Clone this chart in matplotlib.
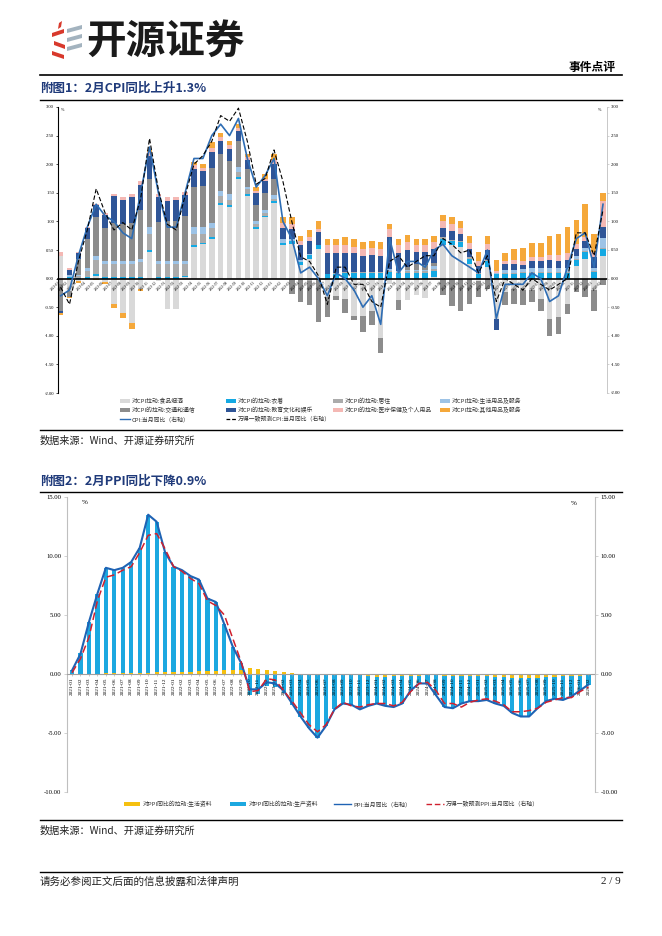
import numpy as np
import matplotlib
matplotlib.use('Agg')
import matplotlib.pyplot as plt
from matplotlib.lines import Line2D
from matplotlib.patches import Rectangle, Polygon

plt.rcParams['font.family'] = ['Noto Sans CJK SC', 'DejaVu Sans']

# ---------------- data ----------------
months = [f"{y}-{m:02d}" for y in range(2021, 2027) for m in range(1, 13)][:62]

food = [0.40,-0.22,-0.05,0.00,0.05,-0.06,-0.45,-0.60,-0.78,-0.18,0.47,-0.05,
        -0.53,-0.54,0.02,0.55,0.60,0.70,1.29,1.25,1.74,1.45,0.87,1.07,
        1.33,0.58,0.60,0.23,0.35,0.52,-0.32,-0.30,-0.35,-0.65,-0.65,-0.56,
        -1.03,-0.10,-0.38,-0.38,-0.29,-0.34,0.02,0.58,0.58,0.55,0.26,-0.05,
        0.20,-0.70,-0.24,-0.18,-0.20,-0.20,-0.35,-0.70,-0.68,-0.44,0.22,0.35,
        -0.20,0.40]
cloth = [-0.01,0.02,0.01,0.02,0.03,0.03,0.03,0.03,0.03,0.03,0.03,0.03,
         0.03,0.03,0.03,0.03,0.03,0.03,0.03,0.03,0.03,0.03,0.03,0.03,
         0.03,0.05,0.05,0.06,0.06,0.06,0.08,0.08,0.10,0.10,0.10,0.10,
         0.10,0.12,0.10,0.10,0.10,0.10,0.12,0.12,0.08,0.09,0.09,0.08,
         0.10,0.08,0.08,0.08,0.09,0.10,0.10,0.10,0.10,0.10,0.10,0.12,
         0.12,0.12]
resid = [-0.08,0.00,0.03,0.12,0.25,0.22,0.22,0.22,0.23,0.26,0.28,0.22,
         0.22,0.22,0.20,0.20,0.15,0.15,0.12,0.10,0.10,0.08,0.06,0.05,
         0.04,0.00,-0.02,-0.03,-0.04,-0.03,-0.01,0.02,0.02,0.02,0.02,0.02,
         0.02,0.02,0.02,0.03,0.03,0.03,0.03,0.02,0.02,0.02,0.02,0.02,
         0.02,0.00,0.02,0.02,0.02,0.02,0.02,0.02,0.02,0.02,0.02,0.02,
         0.02,0.02]
daily = [0.00,0.04,0.03,0.04,0.06,0.05,0.05,0.05,0.05,0.06,0.12,0.06,
         0.06,0.06,0.06,0.12,0.12,0.10,0.10,0.10,0.08,0.05,0.05,0.05,
         0.06,0.06,0.05,0.03,0.02,0.00,0.00,0.00,0.00,0.00,0.00,0.00,
         0.00,0.03,0.02,0.02,0.02,0.02,0.05,0.00,0.00,0.00,0.00,0.00,
         0.00,0.02,0.05,0.05,0.05,0.06,0.06,0.07,0.07,0.07,0.05,0.05,
         0.05,0.17]
trans = [-0.48,-0.10,0.28,0.52,0.68,0.58,0.68,0.66,0.66,0.85,0.84,0.68,
         0.70,0.69,0.78,0.70,0.72,0.95,0.63,0.58,0.46,0.30,0.28,0.30,
         0.28,0.00,-0.25,-0.38,-0.43,-0.72,-0.35,-0.08,-0.25,-0.08,-0.28,-0.25,
         -0.27,0.00,-0.17,0.05,0.10,0.08,0.05,-0.29,-0.48,-0.56,-0.44,-0.28,
         -0.18,0.00,-0.22,-0.26,-0.27,-0.21,-0.21,-0.30,-0.29,-0.18,-0.24,-0.32,
         -0.36,-0.12]
edu = [-0.03,0.09,0.10,0.18,0.21,0.23,0.46,0.41,0.46,0.43,0.40,0.43,
       0.35,0.38,0.38,0.32,0.26,0.29,0.23,0.20,0.17,0.17,0.20,0.20,
       0.26,0.20,0.17,0.26,0.23,0.23,0.36,0.34,0.32,0.32,0.28,0.29,
       0.28,0.55,0.30,0.30,0.22,0.24,0.25,0.17,0.15,0.12,0.14,0.12,
       0.18,-0.20,0.10,0.10,0.08,0.12,0.12,0.13,0.12,0.13,0.12,0.12,
       0.18,0.20]
med = [0.06,0.04,0.02,0.02,0.03,0.03,0.04,0.05,0.05,0.08,0.08,0.06,
       0.06,0.05,0.05,0.06,0.06,0.07,0.07,0.08,0.06,0.04,0.04,0.05,
       0.08,0.08,0.08,0.08,0.07,0.06,0.14,0.14,0.14,0.12,0.12,0.12,
       0.12,0.14,0.14,0.14,0.12,0.12,0.12,0.12,0.12,0.11,0.12,0.09,
       0.10,0.04,0.05,0.07,0.07,0.08,0.08,0.10,0.10,0.12,0.10,0.06,
       0.10,0.45]
other = [-0.03,-0.02,-0.02,-0.01,-0.02,-0.04,-0.07,-0.09,-0.10,-0.04,0.02,0.00,
         0.00,0.00,0.00,0.05,0.06,0.09,0.08,0.06,0.06,0.05,0.07,0.08,
         0.09,0.10,0.12,0.09,0.12,0.13,0.12,0.12,0.14,0.14,0.12,0.12,
         0.12,0.10,0.12,0.13,0.11,0.11,0.10,0.10,0.12,0.12,0.12,0.16,
         0.14,0.18,0.15,0.20,0.22,0.25,0.25,0.32,0.37,0.46,0.42,0.58,
         0.31,0.13]
cpi = [-0.3,-0.2,0.4,0.9,1.3,1.1,1.0,0.8,0.7,1.5,2.3,1.5,
       0.9,0.9,1.5,2.1,2.1,2.5,2.7,2.5,2.8,2.1,1.6,1.8,
       2.1,1.0,0.7,0.1,0.2,0.0,-0.3,0.1,0.0,-0.2,-0.5,-0.3,
       -0.8,0.7,0.1,0.3,0.3,0.2,0.5,0.6,0.4,0.3,0.2,0.1,
       0.5,-0.7,-0.1,-0.1,-0.1,0.1,0.0,-0.4,-0.3,0.2,0.7,0.8,
       0.2,1.3]
cpi_fc = [-0.15,-0.45,0.3,0.85,1.57,1.15,0.85,0.98,0.85,1.4,2.45,1.55,
          0.95,0.85,1.45,2.0,2.15,2.4,2.85,2.75,2.98,2.4,1.65,1.75,
          2.25,1.7,1.0,0.38,0.3,0.05,-0.45,0.2,0.2,-0.1,-0.1,-0.4,
          -0.5,0.3,0.4,0.2,0.3,0.4,0.4,0.7,0.6,0.45,0.5,0.1,
          0.4,-0.4,0.0,-0.1,-0.2,0.0,-0.1,-0.2,-0.1,0.0,0.8,0.8,
          0.4,1.2]

ppi = [0.3,1.7,4.4,6.8,9.0,8.8,9.0,9.5,10.7,13.5,12.9,10.3,
       9.1,8.8,8.3,8.0,6.4,6.1,4.2,2.3,0.9,-1.3,-1.3,-0.7,
       -0.8,-1.4,-2.5,-3.6,-4.6,-5.4,-4.4,-3.0,-2.5,-2.6,-3.0,-2.7,
       -2.5,-2.7,-2.8,-2.5,-1.4,-0.8,-0.8,-1.8,-2.8,-2.9,-2.5,-2.3,
       -2.3,-2.2,-2.5,-2.7,-3.3,-3.6,-3.6,-2.9,-2.3,-2.1,-2.2,-1.9,
       -1.4,-0.9]
ppi_fc = [0.1,1.3,3.1,6.2,8.2,8.4,8.8,9.1,10.3,11.75,11.9,10.6,
          9.1,8.7,8.1,7.65,6.2,5.8,5.0,3.0,1.0,-1.5,-1.4,-0.4,
          -0.5,-1.4,-2.3,-3.3,-4.3,-4.9,-4.3,-3.0,-2.4,-2.7,-2.8,-2.6,
          -2.5,-2.5,-2.7,-2.4,-1.5,-0.8,-0.7,-1.4,-2.5,-2.5,-2.8,-2.4,
          -2.2,-2.1,-2.3,-2.6,-3.2,-3.2,-3.1,-2.9,-2.4,-2.2,-2.0,-2.0,
          -1.5,-1.1]
ppi_consumer = [-0.05,-0.05,-0.03,0.00,0.05,0.05,0.07,0.07,0.08,0.12,0.18,0.18,
                0.18,0.20,0.20,0.22,0.25,0.28,0.36,0.38,0.38,0.47,0.40,0.35,
                0.28,0.17,0.10,0.04,0.00,-0.08,-0.08,-0.05,-0.10,-0.10,-0.10,-0.13,
                -0.22,-0.22,-0.18,-0.20,-0.20,-0.20,-0.10,-0.12,-0.15,-0.15,-0.15,-0.15,
                -0.20,-0.20,-0.22,-0.25,-0.30,-0.30,-0.30,-0.30,-0.28,-0.25,-0.20,-0.20,
                -0.15,-0.10]
ppi_producer = [0.35,1.75,4.43,6.80,8.95,8.75,8.93,9.43,10.62,13.38,12.72,10.12,
                8.92,8.60,8.10,7.78,6.15,5.82,3.84,1.92,0.52,-1.77,-1.70,-1.05,
                -1.08,-1.57,-2.60,-3.64,-4.60,-5.32,-4.32,-2.95,-2.40,-2.50,-2.90,-2.57,
                -2.28,-2.48,-2.62,-2.30,-1.20,-0.60,-0.70,-1.68,-2.65,-2.75,-2.35,-2.15,
                -2.10,-2.00,-2.28,-2.45,-3.00,-3.30,-3.30,-2.60,-2.02,-1.85,-2.00,-1.70,
                -1.25,-0.80]

cpi_names = ['对CPI拉动:食品烟酒', '对CPI的拉动:衣着', '对CPI的拉动:居住', '对CPI拉动:生活用品及服务',
             '对CPI的拉动:交通和通信', '对CPI的拉动:教育文化和娱乐', '对CPI的拉动:医疗保健及个人用品', '对CPI拉动:其他用品及服务']
cpi_colors = ['#D9D9D9', '#14A9E3', '#ABABAB', '#9DC3E6', '#8C8C8C', '#2F5597', '#F4B8B4', '#F5A83A']
cpi_series = [food, cloth, resid, daily, trans, edu, med, other]

# ---------------- figure ----------------
W, H = 662, 936
fig = plt.figure(figsize=(W / 100, H / 100), dpi=100)
def fx(x): return x / W
def fy(y): return 1 - y / H

def hline(y, x0=40, x1=622, lw=1.0, color='black'):
    fig.add_artist(Line2D([fx(x0), fx(x1)], [fy(y), fy(y)], transform=fig.transFigure,
                          color=color, lw=lw))

SERIF = ['Liberation Serif', 'DejaVu Serif']

# logo
lax = fig.add_axes([fx(50), fy(60), 34 / W, 40 / H])
lax.set_xlim(0, 34); lax.set_ylim(0, 40); lax.axis('off')
red = '#D8392C'; gry = '#A3B3BF'
for poly in [[(9, 37), (12, 39), (11, 33), (8, 31)],
             [(2, 27), (14, 31), (14, 27), (2, 23)],
             [(4, 19), (15, 15), (15, 11), (4, 15)],
             [(2, 9), (14, 5), (14, 1), (2, 5)]]:
    lax.add_patch(Polygon(poly, closed=True, color=red, lw=0))
for poly in [[(17, 31), (32, 35), (32, 31), (17, 27)],
             [(17, 22), (32, 26), (32, 22), (17, 18)],
             [(17, 13), (32, 17), (32, 13), (17, 9)]]:
    lax.add_patch(Polygon(poly, closed=True, color=gry, lw=0))
fig.text(fx(86), fy(41), '开源证券', fontsize=28.5, fontweight='bold', va='center', ha='left',
         color='#1a1a1a')
fig.text(fx(616), fy(67), '事件点评', fontsize=8.5, fontweight='bold', ha='right', va='center')
hline(75, lw=1.2)
fig.text(fx(40), fy(88), '附图1：2月CPI同比上升1.3%', fontsize=9, fontweight='bold',
         color='#1F3A7A', va='center', ha='left')
hline(100)

# ---------------- chart 1 ----------------
x = np.arange(len(months))
ax1 = fig.add_axes([fx(57.5), fy(393), (607 - 57.5) / W, (393 - 107) / H])
pos_b = np.zeros(len(x)); neg_b = np.zeros(len(x))
for vals, col in zip(cpi_series, cpi_colors):
    v = np.array(vals)
    p = np.where(v > 0, v, 0); n = np.where(v < 0, v, 0)
    ax1.bar(x, p, bottom=pos_b, width=0.62, color=col, lw=0, zorder=1)
    ax1.bar(x, n, bottom=neg_b, width=0.62, color=col, lw=0, zorder=1)
    pos_b += p; neg_b += n
ax1.plot(x, cpi, color='#2E6DB4', lw=1.2, zorder=4)
ax1.plot(x, cpi_fc, color='black', lw=0.8, ls=(0, (4, 2)), zorder=5)
ax1.set_xlim(-0.35, 61.45); ax1.set_ylim(-2, 3)
ax1.set_yticks(np.arange(-2, 3.01, 0.5))
ax1.set_yticklabels([f"{t:.2f}" for t in np.arange(-2, 3.01, 0.5)], fontsize=3.3, family=SERIF)
ax1.spines['top'].set_visible(False); ax1.spines['right'].set_visible(False)
ax1.spines['left'].set_color('black'); ax1.spines['left'].set_lw(0.8)
ax1.spines['bottom'].set_position(('data', 0)); ax1.spines['bottom'].set_lw(1.2)
ax1.set_xticks(x)
ax1.set_xticklabels(months, rotation=45, ha='right', fontsize=2.6, family=SERIF)
ax1.tick_params(axis='x', length=0, pad=1)
ax1.tick_params(axis='y', length=1.5, width=0.5, pad=1)
ax1.patch.set_alpha(0)
ax1r = ax1.twinx()
ax1r.set_ylim(-2, 3)
ax1r.set_yticks(np.arange(-2, 3.01, 0.5))
ax1r.set_yticklabels([f"{t:.2f}" for t in np.arange(-2, 3.01, 0.5)], fontsize=3.3, family=SERIF)
for s in ['top', 'left', 'bottom']:
    ax1r.spines[s].set_visible(False)
ax1r.spines['right'].set_color('#BFBFBF'); ax1r.spines['right'].set_lw(0.6)
ax1r.tick_params(axis='y', length=1.5, width=0.5, pad=1, color='#BFBFBF')
ax1.text(0.006, 0.995, '%', transform=ax1.transAxes, fontsize=3, family=SERIF, va='top')
ax1.text(0.99, 0.995, '%', transform=ax1.transAxes, fontsize=3, family=SERIF, va='top', ha='right')

# legend chart 1
cols = [120, 226, 333, 440]
rows = [401, 410, 419]
for k, (name, col) in enumerate(zip(cpi_names, cpi_colors)):
    r, c = divmod(k, 4)
    fig.add_artist(Rectangle((fx(cols[c]), fy(rows[r] + 1.6)), 10 / W, 3.2 / H,
                             transform=fig.transFigure, color=col, lw=0))
    fig.text(fx(cols[c] + 11.5), fy(rows[r]), name, fontsize=4.2, va='center', ha='left', color='#333333')
fig.add_artist(Line2D([fx(cols[0]), fx(cols[0] + 10)], [fy(rows[2])] * 2, transform=fig.transFigure,
                      color='#2E6DB4', lw=1.0))
fig.text(fx(cols[0] + 11.5), fy(rows[2]), 'CPI:当月同比（右轴）', fontsize=4.2, va='center', color='#333333')
fig.add_artist(Line2D([fx(cols[1]), fx(cols[1] + 10)], [fy(rows[2])] * 2, transform=fig.transFigure,
                      color='black', lw=0.9, ls=(0, (3, 1.5))))
fig.text(fx(cols[1] + 11.5), fy(rows[2]), '万得一致预测CPI:当月同比（右轴）', fontsize=4.2, va='center', color='#333333')

hline(430)
fig.text(fx(40), fy(441), '数据来源：Wind、开源证券研究所', fontsize=7.3, va='center', ha='left', color='#222222')

fig.text(fx(40), fy(481), '附图2：2月PPI同比下降0.9%', fontsize=9, fontweight='bold',
         color='#1F3A7A', va='center', ha='left')
hline(492)

# ---------------- chart 2 ----------------
ax2 = fig.add_axes([fx(67), fy(792), (595 - 67) / W, (792 - 497) / H])
pos_b = np.zeros(len(x)); neg_b = np.zeros(len(x))
for vals, col in zip([ppi_consumer, ppi_producer], ['#F5C010', '#1CA8E0']):
    v = np.array(vals)
    p = np.where(v > 0, v, 0); n = np.where(v < 0, v, 0)
    ax2.bar(x, p, bottom=pos_b, width=0.5, color=col, lw=0, zorder=1)
    ax2.bar(x, n, bottom=neg_b, width=0.5, color=col, lw=0, zorder=1)
    pos_b += p; neg_b += n
ax2.plot(x, ppi, color='#1F63B4', lw=1.5, zorder=4)
ax2.plot(x, ppi_fc, color='#D0202E', lw=1.1, ls=(0, (5, 2.5)), zorder=5)
ax2.set_xlim(-0.59, 61.78); ax2.set_ylim(-10, 15)
ticks2 = np.arange(-10, 15.01, 5)
ax2.set_yticks(ticks2)
ax2.set_yticklabels([f"{t:.2f}" for t in ticks2], fontsize=4.8, family=SERIF)
ax2.spines['top'].set_visible(False); ax2.spines['right'].set_visible(False)
ax2.spines['left'].set_color('#BFBFBF'); ax2.spines['left'].set_lw(0.8)
ax2.spines['bottom'].set_position(('data', 0)); ax2.spines['bottom'].set_color('#A0A0A0')
ax2.spines['bottom'].set_lw(0.8)
ax2.set_xticks(x)
ax2.set_xticklabels(months, rotation=90, fontsize=3.8, family=SERIF)
ax2.tick_params(axis='x', length=1.5, width=0.4, color='#A0A0A0', pad=1)
ax2.tick_params(axis='y', length=2, width=0.5, color='#BFBFBF', pad=2)
ax2.patch.set_alpha(0)
ax2r = ax2.twinx()
ax2r.set_ylim(-10, 15)
ax2r.set_yticks(ticks2)
ax2r.set_yticklabels([f"{t:.2f}" for t in ticks2], fontsize=4.8, family=SERIF)
for s in ['top', 'left', 'bottom']:
    ax2r.spines[s].set_visible(False)
ax2r.spines['right'].set_color('#BFBFBF'); ax2r.spines['right'].set_lw(0.8)
ax2r.tick_params(axis='y', length=2, width=0.5, color='#BFBFBF', pad=2)
ax2.text(0.028, 0.99, '%', transform=ax2.transAxes, fontsize=5, family=SERIF, va='top')
ax2.text(0.965, 0.985, '%', transform=ax2.transAxes, fontsize=5, family=SERIF, va='top', ha='right')

# legend chart 2
ly = 804
fig.add_artist(Rectangle((fx(124), fy(ly + 1.6)), 16 / W, 3.2 / H, transform=fig.transFigure,
                         color='#F5C010', lw=0))
fig.text(fx(143), fy(ly), '对PPI同比的拉动:生活资料', fontsize=4.2, va='center', color='#333333')
fig.add_artist(Rectangle((fx(230), fy(ly + 1.6)), 16 / W, 3.2 / H, transform=fig.transFigure,
                         color='#1CA8E0', lw=0))
fig.text(fx(249), fy(ly), '对PPI同比的拉动:生产资料', fontsize=4.2, va='center', color='#333333')
fig.add_artist(Line2D([fx(334), fx(351)], [fy(ly)] * 2, transform=fig.transFigure,
                      color='#1F63B4', lw=1.0))
fig.text(fx(353), fy(ly), 'PPI:当月同比（右轴）', fontsize=4.2, va='center', color='#333333')
fig.add_artist(Line2D([fx(426), fx(444)], [fy(ly)] * 2, transform=fig.transFigure,
                      color='#D0202E', lw=1.0, ls=(0, (4, 2))))
fig.text(fx(446), fy(ly), '万得一致预测PPI:当月同比（右轴）', fontsize=4.2, va='center', color='#333333')

hline(820)
fig.text(fx(40), fy(831), '数据来源：Wind、开源证券研究所', fontsize=7.3, va='center', ha='left', color='#222222')

# footer
hline(872)
fig.text(fx(40), fy(882), '请务必参阅正文后面的信息披露和法律声明', fontsize=7.6, va='center', ha='left',
         color='#222222')
fig.text(fx(621), fy(882), '2 / 9', fontsize=8, va='center', ha='right', family=SERIF, color='#222222')

fig.savefig('out.png', dpi=100)
